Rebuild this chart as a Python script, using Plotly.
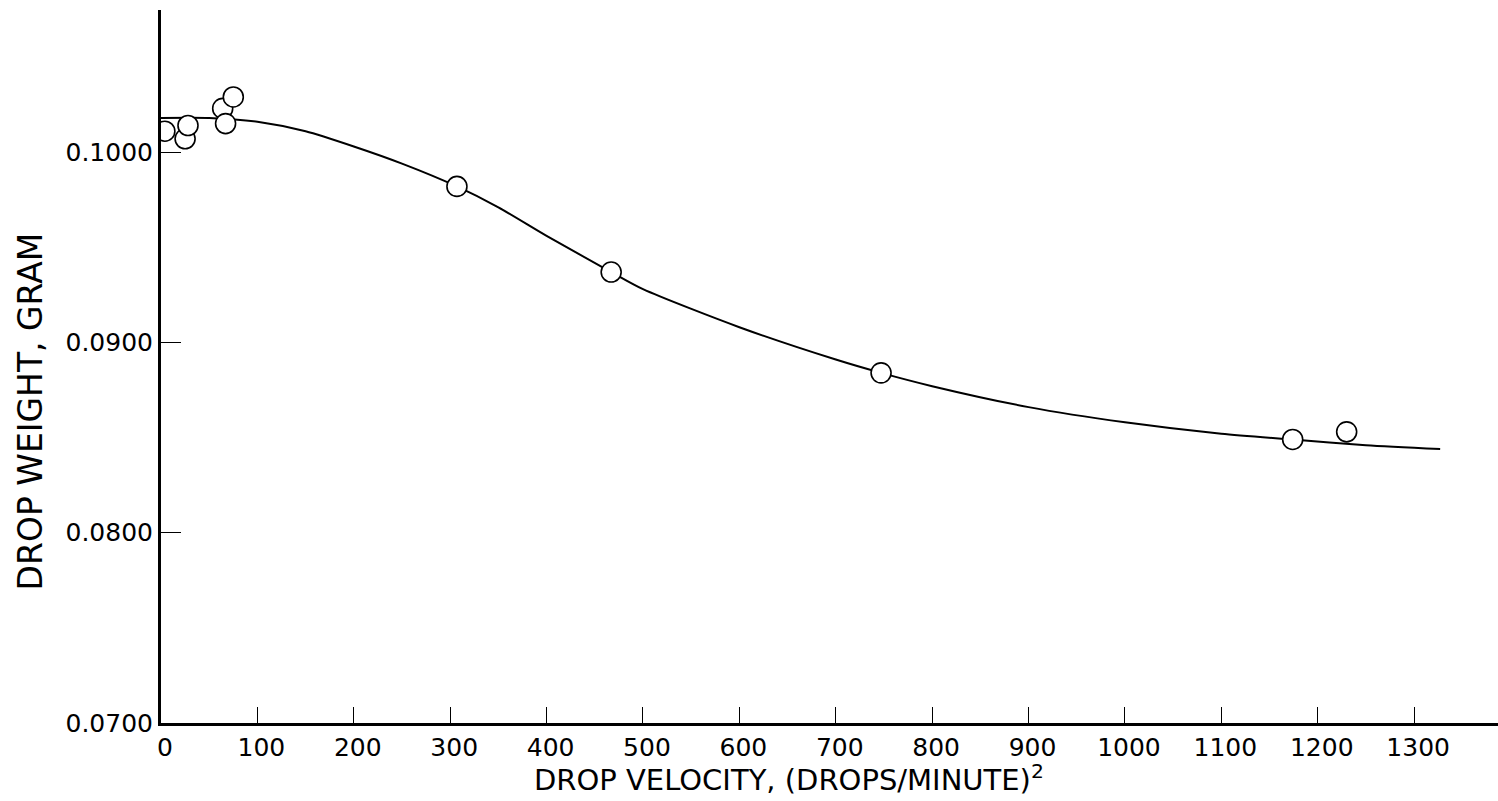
import plotly.graph_objects as go

# Measured drop weights versus drop velocity squared
velocity_sq = [4, 25, 28, 64, 67, 75, 307, 467, 747, 1174, 1230]
drop_weight = [0.1011, 0.1007, 0.1014, 0.1023, 0.1015, 0.1029,
               0.0982, 0.0937, 0.0884, 0.0849, 0.0853]

# Hand-faired curve through the measurements
curve_x = [0, 50, 100, 150, 200, 250, 307, 350, 400, 467, 500, 600,
           700, 747, 800, 900, 1000, 1100, 1174, 1250, 1327]
curve_y = [0.1018, 0.1018, 0.1016, 0.1011, 0.1003, 0.0994, 0.0982,
           0.0971, 0.0956, 0.0937, 0.0928, 0.0908, 0.0891, 0.0884,
           0.0877, 0.0866, 0.0858, 0.0852, 0.0849, 0.0846, 0.0844]

x_ticks = [0, 100, 200, 300, 400, 500, 600, 700, 800, 900, 1000, 1100, 1200, 1300]
y_ticks = [0.07, 0.08, 0.09, 0.10]
y_tick_text = ["0.0700", "0.0800", "0.0900", "0.1000"]

FONT = "DejaVu Sans"

fig = go.Figure()
fig.add_trace(go.Scatter(
    x=curve_x, y=curve_y, mode="lines",
    line=dict(color="black", width=2, shape="spline", smoothing=0.7),
    hoverinfo="skip", showlegend=False,
))
fig.add_trace(go.Scatter(
    x=velocity_sq, y=drop_weight, mode="markers",
    marker=dict(symbol="circle", size=20, color="white",
                line=dict(color="black", width=1.6)),
    showlegend=False,
))

fig.update_layout(
    width=1498, height=801,
    margin=dict(l=161, r=0, t=10, b=78),
    paper_bgcolor="white", plot_bgcolor="white",
    font=dict(family=FONT, color="black"),
)
fig.update_xaxes(
    range=[0, 1387], tickvals=x_ticks, ticks="inside", ticklen=16,
    tickwidth=1.2, tickcolor="black", showgrid=False, zeroline=False,
    showline=True, linecolor="black", linewidth=2.5,
    tickfont=dict(size=25, family=FONT), ticklabelshift=4,
)
fig.update_yaxes(
    range=[0.07, 0.10747], tickvals=y_ticks, ticktext=y_tick_text,
    ticks="inside", ticklen=20, tickwidth=1.2, tickcolor="black",
    showgrid=False, zeroline=False,
    showline=True, linecolor="black", linewidth=3,
    tickfont=dict(size=25, family=FONT),
)

# Axis titles placed as annotations so they can sit off-centre
fig.add_annotation(
    text="DROP VELOCITY, (DROPS/MINUTE)<sup>2</sup>",
    xref="paper", yref="paper", x=0.47, y=-0.077,
    xanchor="center", yanchor="middle", showarrow=False,
    font=dict(size=29, family=FONT),
)
fig.add_annotation(
    text="DROP WEIGHT, GRAM", textangle=-90,
    xref="paper", yref="paper", x=-0.098, y=0.437,
    xanchor="center", yanchor="middle", showarrow=False,
    font=dict(size=33, family=FONT),
)

fig.write_html("out.html")
